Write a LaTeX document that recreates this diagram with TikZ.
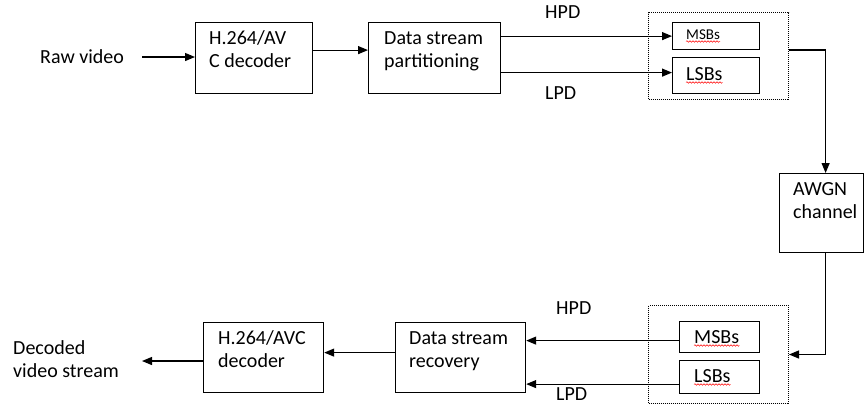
\documentclass[tikz,border=0pt]{standalone}
\usepackage{fontspec}
\setmainfont{Carlito}
\usetikzlibrary{arrows.meta,positioning,decorations.pathmorphing}

\tikzset{
  blk/.style={draw, line width=1.2pt, anchor=north west, inner sep=0pt},
  grp/.style={draw, densely dotted, line width=1pt, anchor=north west, inner sep=0pt},
  lbl/.style={anchor=base west, inner sep=0pt, align=left, font=\fontsize{20}{22.5}\selectfont},
  flow/.style={-{Triangle[length=10pt,width=8pt]}, line width=1.2pt},
  squig/.style={draw=red, line width=0.5pt, decorate, decoration={snake, amplitude=0.8pt, segment length=3pt}}
}

\begin{document}
\begin{tikzpicture}[x=1pt,y=-1pt]
	\useasboundingbox (0,0) rectangle (864,405);
	% blocchi in alto
	\node[blk, minimum width=117, minimum height=71] (enc) at (195,22) {};
	\node[blk, minimum width=132, minimum height=71] (part) at (368,22) {};
	\node[grp, minimum width=140, minimum height=87] (grpT) at (648,12) {};
	\node[blk, minimum width=87, minimum height=27] (msbT) at (672,22) {};
	\node[blk, minimum width=87, minimum height=36] (lsbT) at (672,57) {};
	\node[blk, minimum width=84, minimum height=79] (awgn) at (779,173) {};
	% blocchi in basso
	\node[grp, minimum width=140, minimum height=98] (grpB) at (648,305) {};
	\node[blk, minimum width=80, minimum height=31] (msbB) at (679,321) {};
	\node[blk, minimum width=80, minimum height=33] (lsbB) at (679,360) {};
	\node[blk, minimum width=130, minimum height=70] (recov) at (395,322) {};
	\node[blk, minimum width=120, minimum height=70] (dec) at (203,322) {};
	% testi (base = ultima riga)
	\node[lbl] (raw) at (40,63) {Raw video};
	\node[lbl] (encT) at (209,67) {H.264/AV\\C decoder};
	\node[lbl] (partT) at (384,67) {Data stream\\partitioning};
	\node[lbl] (hpdT) at (545,18) {HPD};
	\node[lbl] (lpdT) at (545,99) {LPD};
	\node[lbl, font=\fontsize{15}{18}\selectfont] (msbTT) at (686,39) {MSBs};
	\node[lbl] (lsbTT) at (686,80) {LSBs};
	\node[lbl] (awgnT) at (793,218) {AWGN\\channel};
	\node[lbl] (hpdB) at (556,314) {HPD};
	\node[lbl] (lpdB) at (556,400) {LPD};
	\node[lbl] (msbBT) at (694,343) {MSBs};
	\node[lbl] (lsbBT) at (694,382) {LSBs};
	\node[lbl] (recT) at (409,367) {Data stream\\recovery};
	\node[lbl] (decT) at (218,367) {H.264/AVC\\decoder};
	\node[lbl] (out) at (13,377) {Decoded\\video stream};
	\coordinate (rawE) at (142,57);
	\coordinate (outE) at (142,361);
	% collegamenti
	\draw[flow] (rawE) -- (rawE -| enc.west);
	\draw[flow] ([yshift=8pt]enc.east) -- ([yshift=8pt]part.west);
	\draw[flow] (part.east |- msbT.west) -- (msbT.west);
	\draw[flow] ([yshift=3pt]part.east |- lsbT.west) -- ([yshift=3pt]lsbT.west);
	\draw[flow] ([yshift=6pt]grpT.east) -| ([xshift=4pt]awgn.north);
	\draw[flow] ([xshift=4pt]awgn.south) |- (grpB.east);
	\draw[flow] ([yshift=-3.5pt]msbB.west) -- ([yshift=-3.5pt]msbB.west -| recov.east);
	\draw[flow] ([yshift=-7pt]lsbB.west) -- ([yshift=-7pt]lsbB.west -| recov.east);
	\draw[flow] ([yshift=5pt]recov.west) -- ([yshift=5pt]dec.east);
	\draw[flow] (dec.west |- outE) -- (outE);
	% sottolineature
	\foreach \t in {msbTT,lsbTT,msbBT,lsbBT}
		\draw[squig] ([yshift=-2.5pt]\t.base west) -- ([yshift=-2.5pt]\t.base east);
\end{tikzpicture}
\end{document}
